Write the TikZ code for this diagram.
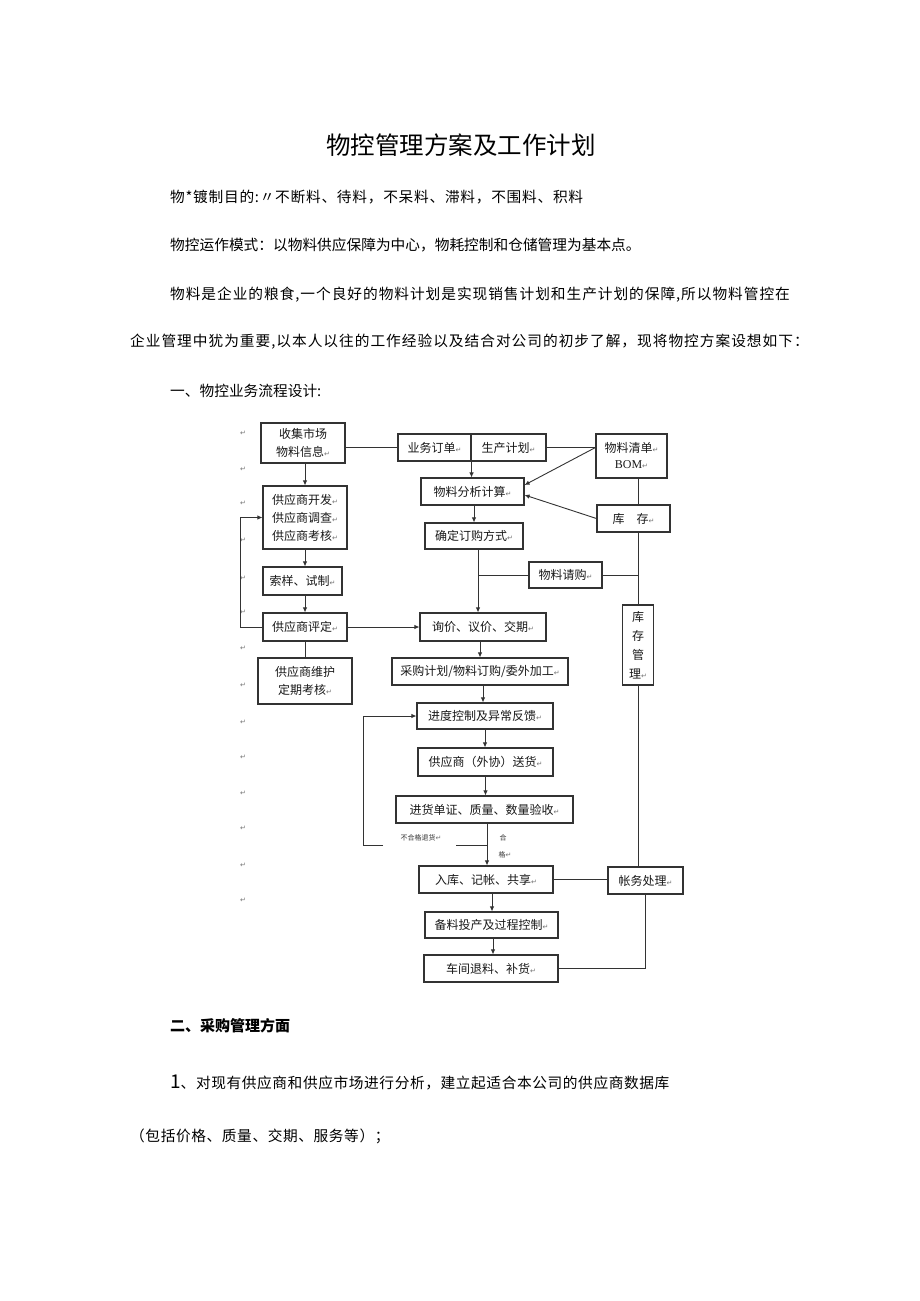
\documentclass[tikz,border=0pt]{standalone}
\usepackage{fontspec}
\setmainfont{Noto Sans CJK SC}
\newfontfamily\dejavu{DejaVu Sans}
\newfontfamily\tnr{Liberation Serif}
\usetikzlibrary{arrows.meta,calc}
\newcommand\pmk{{\dejavu\fontsize{7}{7}\selectfont\color{black!55}↵}}
\begin{document}
\begin{tikzpicture}[x=1pt,y=-1pt,
  fbox/.style={draw=black!80, line width=1.1pt, inner sep=0pt, align=center, font=\fontsize{12}{18}\selectfont, text=black!90},
  arr/.style={-{Latex[length=5pt,width=4.5pt]}, line width=0.9pt, draw=black!80},
  ln/.style={line width=0.9pt, draw=black!80},
  body/.style={anchor=west, inner sep=0pt, font=\fontsize{14.7}{15}\selectfont},
  pmark/.style={inner sep=0pt}]
\useasboundingbox[fill=white] (0,0) rectangle (920,1301);

% ---- text ----
\node[font=\fontsize{24.5}{24.5}\selectfont] (title) at (461,145) {物控管理方案及工作计划};
\node[body] (l1) at (170,197) {\addfontfeature{LetterSpace=5}物*镀制目的:〃不断料、待料，不呆料、滞料，不围料、积料};
\node[body] (l2) at (170,245) {物控运作模式：以物料供应保障为中心，物耗控制和仓储管理为基本点。};
\node[body] (l3) at (170,295) {\addfontfeature{LetterSpace=6.5}物料是企业的粮食,一个良好的物料计划是实现销售计划和生产计划的保障,所以物料管控在};
\node[body] (l4) at (130,342) {\addfontfeature{LetterSpace=6.7}企业管理中犹为重要,以本人以往的工作经验以及结合对公司的初步了解，现将物控方案设想如下：};
\node[body] (l5) at (170,391) {一、物控业务流程设计:};
\node[body, font=\fontsize{15}{15}\selectfont\bfseries] (h2) at (170,1026) {二、采购管理方面};
\node[body] (p1) at (170,1082) {\addfontfeature{LetterSpace=4}{\fontsize{19}{19}\selectfont 1}、对现有供应商和供应市场进行分析，建立起适合本公司的供应商数据库};
\node[body] (p2) at (130,1136) {\addfontfeature{LetterSpace=4}（包括价格、质量、交期、服务等）；};

% ---- boxes ----
\node[fbox, minimum width=84pt, minimum height=40pt] (collect) at (303,443) {收集市场\\物料信息\pmk};
\node[fbox, minimum width=73pt, minimum height=27pt] (order) at (434.5,447.5) {业务订单\pmk};
\node[fbox, minimum width=75pt, minimum height=27pt] (prod) at (508.5,447.5) {生产计划\pmk};
\node[fbox, minimum width=71pt, minimum height=44pt, font=\fontsize{12}{16}\selectfont] (bom) at (631.5,456) {物料清单\pmk\\{\tnr BOM}\pmk};
\node[fbox, minimum width=103pt, minimum height=27pt] (analysis) at (472.5,491.5) {物料分析计算\pmk};
\node[fbox, minimum width=73pt, minimum height=27pt] (stock) at (633.5,518.5) {库\quad 存\pmk};
\node[fbox, minimum width=98pt, minimum height=26pt] (method) at (474,536) {确定订购方式\pmk};
\node[fbox, minimum width=73pt, minimum height=26pt] (req) at (565.5,575) {物料请购\pmk};
\node[fbox, minimum width=31pt, minimum height=80pt, font=\fontsize{12}{19}\selectfont] (inv) at (638,645) {库\\存\\管\\理\pmk};
\node[fbox, minimum width=126pt, minimum height=28pt] (inquiry) at (483,627) {询价、议价、交期\pmk};
\node[fbox, minimum width=176pt, minimum height=27pt] (purchase) at (480,671.5) {采购计划/物料订购/委外加工\pmk};
\node[fbox, minimum width=136pt, minimum height=26pt] (progress) at (485,716) {进度控制及异常反馈\pmk};
\node[fbox, minimum width=135pt, minimum height=28pt] (deliver) at (485.5,762) {供应商（外协）送货\pmk};
\node[fbox, minimum width=177pt, minimum height=27pt] (inspect) at (484.5,809.5) {进货单证、质量、数量验收\pmk};
\node[fbox, minimum width=134pt, minimum height=27pt] (store) at (486,879.5) {入库、记帐、共享\pmk};
\node[fbox, minimum width=75pt, minimum height=27pt] (account) at (645.5,880.5) {帐务处理\pmk};
\node[fbox, minimum width=133pt, minimum height=26pt] (prep) at (491.5,925) {备料投产及过程控制\pmk};
\node[fbox, minimum width=134pt, minimum height=27pt] (ret) at (491,968.5) {车间退料、补货\pmk};
\node[fbox, minimum width=84pt, minimum height=63pt] (supdev) at (305,517.5) {供应商开发\pmk\\供应商调查\pmk\\供应商考核\pmk};
\node[fbox, minimum width=79pt, minimum height=28pt] (sample) at (302.5,581) {索样、试制\pmk};
\node[fbox, minimum width=84pt, minimum height=28pt] (rate) at (305,627) {供应商评定\pmk};
\node[fbox, minimum width=94pt, minimum height=46pt] (maint) at (305,681) {供应商维护\\定期考核\pmk};

% ---- margin marks ----
\foreach \yy in {433,469,503,540,578,612,648,685,722,757,793,828,865,900}
  \node[pmark] at (243,\yy) {\pmk};

% ---- connectors ----
\draw[ln] (order.west) -- (order.west -| collect.east);
\draw[arr] (order.south east) -- (order.south east |- analysis.north);
\draw[ln] (prod.east) -- (prod.east -| bom.west);
\draw[arr] (prod.east -| bom.west) -- ($(analysis.east)+(0,-6.5)$);
\draw[ln] (stock.north -| inv.north) -- (bom.south -| inv.north);
\draw[arr] (stock.west) -- ($(analysis.east)+(0,3.5)$);
\draw[arr] (analysis.south -| method.north) -- (method.north);
\coordinate (sp1) at ($(method.south)+(4,0)$);
\draw[arr] (sp1) -- (sp1 |- inquiry.north);
\draw[ln] (req.west) -- (req.west -| sp1);
\draw[ln] (req.east) -- (req.east -| inv.north);
\draw[ln] (inv.north) -- (inv.north |- stock.south);
\draw[ln] (inv.south) -- (inv.south |- account.north);
\draw[arr] (rate.east) -- (rate.east -| inquiry.west);
\draw[arr] (inquiry.south -| purchase.north) -- (purchase.north);
\coordinate (pp) at ($(purchase.south)+(3,0)$);
\draw[arr] (pp) -- (pp |- progress.north);
\draw[arr] (progress.south) -- (progress.south |- deliver.north);
\draw[arr] (deliver.south) -- (deliver.south |- inspect.north);
\coordinate (sp2) at ($(inspect.south)+(2.5,0)$);
\draw[arr] (sp2) -- (sp2 |- store.north);
\coordinate (rj) at (sp2 |- 0,845);
\coordinate (rj1) at (456,845);
\coordinate (rj2) at (383,845);
\coordinate (rj3) at (363,845);
\draw[ln] (rj) -- (rj1);
\draw[arr] (rj2) -- (rj3) -- (rj3 |- progress.west) -- (progress.west);
\node[inner sep=0pt, font=\fontsize{7}{7}\selectfont, text=black!80] (rjl) at (421,838) {不合格退货\pmk};
\node[inner sep=0pt, font=\fontsize{7}{7}\selectfont, text=black!80] (ok1) at (503,838) {合};
\node[inner sep=0pt, font=\fontsize{7}{7}\selectfont, text=black!80] (ok2) at (505,855) {格\pmk};
\coordinate (sp3) at ($(store.south)+(6,0)$);
\draw[arr] (sp3) -- (sp3 |- prep.north);
\coordinate (sp4) at ($(prep.south)+(1.5,0)$);
\draw[arr] (sp4) -- (sp4 |- ret.north);
\draw[ln] (store.east) -- (store.east -| account.west);
\draw[ln] (ret.east) -- (ret.east -| account.south) -- (account.south);
\draw[arr] (collect.south -| supdev.north) -- (supdev.north);
\draw[arr] (supdev.south) -- (supdev.south |- sample.north);
\draw[arr] (sample.south -| rate.north) -- (rate.north);
\coordinate (fb) at (240,0);
\draw[arr] (rate.west) -- (rate.west -| fb) -- (fb |- supdev.west) -- (supdev.west);
\draw[ln] (rate.south) -- (maint.north);
\end{tikzpicture}
\end{document}
